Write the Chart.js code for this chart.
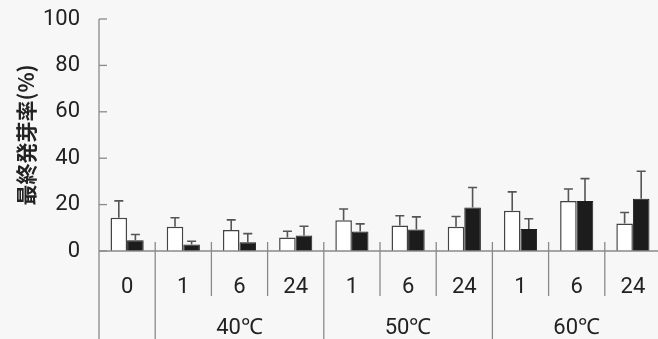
<!DOCTYPE html>
<html>
<head>
<meta charset="utf-8">
<script src="https://cdn.jsdelivr.net/npm/chart.js@4/dist/chart.umd.min.js"></script>
<style>
  html, body { margin: 0; padding: 0; background: #f7f7f7; overflow: hidden; }
  #wrap { width: 661px; height: 339px; }
</style>
</head>
<body>
<div id="wrap"><canvas id="chart" width="661" height="339"></canvas></div>
<script>
// hours of treatment, grouped by temperature
const hourLabels = ['0', '1', '6', '24', '1', '6', '24', '1', '6', '24'];
const groupLabels = ['40℃', '50℃', '60℃'];
const groupStarts = [1, 4, 7];   // first category index of each temperature group

// white bars and their upper error
const whiteValues = [14.3, 10.4, 9.1, 5.8, 13.3, 11.0, 10.4, 17.3, 21.5, 11.9];
const whiteErrors = [7.3, 3.9, 4.3, 2.7, 4.8, 4.2, 4.5, 8.2, 5.2, 4.7];
// black bars and their upper error
const blackValues = [4.6, 2.8, 3.8, 6.7, 8.4, 9.3, 18.8, 9.5, 21.6, 22.5];
const blackErrors = [2.5, 1.4, 3.7, 4.0, 3.3, 5.4, 8.6, 4.4, 9.6, 11.9];

const yTicks = [0, 20, 40, 60, 80, 100];

const numFont = "Roboto, 'Liberation Sans', sans-serif";
const lineColor = '#8a8a8a';

const frame = {
  id: 'frame',
  afterDatasetsDraw(chart) {
    const { ctx, chartArea, scales } = chart;
    const x = scales.x, y = scales.y;
    const h = chart.height;
    ctx.save();

    // error bars (upper only, with cap)
    const errs = [whiteErrors, blackErrors];
    chart.data.datasets.forEach((ds, di) => {
      const meta = chart.getDatasetMeta(di);
      meta.data.forEach((bar, i) => {
        const top = y.getPixelForValue(ds.data[i]);
        const end = y.getPixelForValue(ds.data[i] + errs[di][i]);
        ctx.strokeStyle = '#555';
        ctx.lineWidth = 1.6;
        ctx.beginPath();
        ctx.moveTo(bar.x, top);
        ctx.lineTo(bar.x, end);
        ctx.moveTo(bar.x - 4.5, end);
        ctx.lineTo(bar.x + 4.5, end);
        ctx.stroke();
      });
    });

    ctx.strokeStyle = lineColor;
    ctx.lineWidth = 1.3;
    // y axis line running to the bottom
    ctx.beginPath();
    ctx.moveTo(chartArea.left, chartArea.top);
    ctx.lineTo(chartArea.left, h);
    ctx.stroke();
    // inward ticks
    yTicks.forEach(v => {
      const py = y.getPixelForValue(v);
      ctx.beginPath();
      ctx.moveTo(chartArea.left, py);
      ctx.lineTo(chartArea.left + 8, py);
      ctx.stroke();
    });
    // baseline
    const y0 = y.getPixelForValue(0);
    ctx.beginPath();
    ctx.moveTo(chartArea.left, y0);
    ctx.lineTo(chartArea.right, y0);
    ctx.stroke();

    // category dividers
    for (let i = 1; i < hourLabels.length; i++) {
      const px = (x.getPixelForValue(i - 1) + x.getPixelForValue(i)) / 2;
      const long = groupStarts.includes(i);
      ctx.beginPath();
      ctx.moveTo(px, y0 - 9);
      ctx.lineTo(px, long ? h : y0 + 45);
      ctx.stroke();
    }

    // group labels
    ctx.fillStyle = '#222';
    ctx.font = '22px ' + numFont;
    ctx.textAlign = 'center';
    ctx.textBaseline = 'middle';
    groupLabels.forEach((g, k) => {
      const c = x.getPixelForValue(groupStarts[k] + 1);
      ctx.fillText(g, c, y0 + 77);
    });
    ctx.restore();
  }
};

new Chart(document.getElementById('chart'), {
  type: 'bar',
  data: {
    labels: hourLabels,
    datasets: [
      {
        data: whiteValues,
        backgroundColor: '#ffffff',
        borderColor: '#444',
        borderWidth: 1.5,
        borderSkipped: 'bottom'
      },
      {
        data: blackValues,
        backgroundColor: '#1c1c1c',
        borderColor: '#1c1c1c',
        borderWidth: 1,
        borderSkipped: 'bottom'
      }
    ]
  },
  options: {
    responsive: false,
    animation: false,
    events: [],
    layout: { padding: { top: 19, right: 0, bottom: 0, left: 0 } },
    datasets: { bar: { categoryPercentage: 0.59, barPercentage: 1 } },
    plugins: { legend: { display: false }, tooltip: { enabled: false } },
    scales: {
      x: {
        grid: { display: false, drawTicks: false },
        border: { display: false },
        afterFit: s => { s.height = 88; s.paddingLeft = 0; s.paddingRight = 0; },
        ticks: {
          color: '#222',
          padding: 23,
          maxRotation: 0,
          autoSkip: false,
          font: { family: numFont, size: 22 }
        }
      },
      y: {
        min: 0,
        max: 100,
        afterFit: s => { s.width = 99; s.paddingTop = 0; s.paddingBottom = 0; },
        afterBuildTicks: s => { s.ticks = yTicks.map(v => ({ value: v })); },
        grid: { display: false, drawTicks: false },
        border: { display: false },
        ticks: {
          color: '#222',
          padding: 19,
          font: { family: numFont, size: 22 }
        },
        title: {
          display: true,
          text: '最終発芽率(%)',
          color: '#222',
          padding: { top: 13, bottom: 0 },
          font: { family: "'Noto Sans CJK JP', sans-serif", size: 21, weight: 'bold' }
        }
      }
    }
  },
  plugins: [frame]
});
</script>
</body>
</html>
